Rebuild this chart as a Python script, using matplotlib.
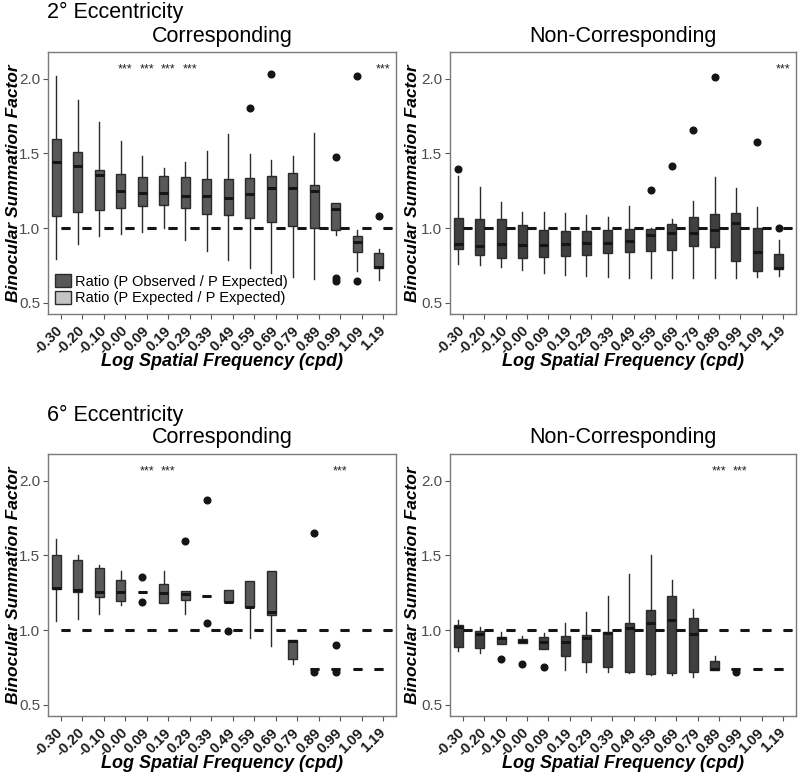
import numpy as np
import matplotlib
matplotlib.use("Agg")
import matplotlib.pyplot as plt
from matplotlib.patches import Patch
from matplotlib.transforms import ScaledTranslation

plt.rcParams['font.family'] = ['Liberation Sans', 'DejaVu Sans']

categories = ["-0.30", "-0.20", "-0.10", "-0.00", "0.09", "0.19", "0.29", "0.39",
              "0.49", "0.59", "0.69", "0.79", "0.89", "0.99", "1.09", "1.19"]

# ---- 2 deg, Corresponding (observed / expected) ----
tl_lo  = [0.790, 0.890, 0.946, 0.958, 0.973, 1.000, 0.920, 0.848, 0.785, 0.734, 0.696, 0.670, 0.656, 0.951, 0.711, 0.651]
tl_q1  = [1.083, 1.105, 1.123, 1.136, 1.146, 1.152, 1.136, 1.096, 1.085, 1.065, 1.038, 1.016, 1.002, 0.987, 0.837, 0.734]
tl_med = [1.445, 1.418, 1.355, 1.248, 1.237, 1.237, 1.217, 1.217, 1.200, 1.230, 1.268, 1.268, 1.248, 1.125, 0.904, 0.740]
tl_q3  = [1.600, 1.508, 1.390, 1.360, 1.342, 1.349, 1.340, 1.331, 1.331, 1.333, 1.351, 1.371, 1.289, 1.166, 0.944, 0.830]
tl_hi  = [2.020, 1.857, 1.711, 1.584, 1.481, 1.405, 1.443, 1.520, 1.633, 1.494, 1.454, 1.485, 1.635, 1.166, 0.987, 0.859]
tl_out = [[], [], [], [], [], [], [], [], [], [1.805], [2.033], [], [], [1.478, 0.665, 0.645], [2.020, 0.647], [1.083]]
tl_stars = ["-0.00", "0.09", "0.19", "0.29", "1.19"]

# ---- 2 deg, Non-Corresponding ----
tr_lo  = [0.756, 0.750, 0.740, 0.720, 0.696, 0.685, 0.676, 0.671, 0.666, 0.666, 0.666, 0.666, 0.666, 0.666, 0.671, 0.676]
tr_q1  = [0.857, 0.821, 0.799, 0.799, 0.803, 0.812, 0.821, 0.832, 0.841, 0.848, 0.850, 0.879, 0.872, 0.779, 0.709, 0.727]
tr_med = [0.890, 0.881, 0.890, 0.888, 0.888, 0.893, 0.897, 0.897, 0.913, 0.953, 0.964, 0.969, 0.987, 1.036, 0.841, 0.734]
tr_q3  = [1.065, 1.060, 1.060, 1.020, 0.984, 0.980, 0.982, 0.987, 0.991, 0.996, 1.029, 1.072, 1.092, 1.098, 0.998, 0.826]
tr_hi  = [1.349, 1.273, 1.177, 1.105, 1.105, 1.100, 1.085, 1.076, 1.148, 1.003, 1.062, 1.181, 1.340, 1.268, 1.139, 0.917]
tr_out = [[1.394], [], [], [], [], [], [], [], [], [1.253], [1.416], [1.660], [2.011], [], [1.575], [1.000]]
tr_stars = ["1.19"]

# ---- 6 deg, Corresponding ----
bl_lo  = [1.060, 1.074, 1.105, 1.166, 1.255, 1.179, 1.110, 1.226, 1.190, 0.948, 0.890, 0.774, 0.736, 0.736, 0.736, 0.736]
bl_q1  = [1.278, 1.253, 1.221, 1.197, 1.255, 1.183, 1.199, 1.226, 1.190, 1.155, 1.100, 0.808, 0.736, 0.736, 0.736, 0.736]
bl_med = [1.285, 1.268, 1.257, 1.255, 1.255, 1.250, 1.240, 1.226, 1.190, 1.157, 1.119, 0.926, 0.736, 0.736, 0.736, 0.736]
bl_q3  = [1.503, 1.472, 1.418, 1.333, 1.255, 1.309, 1.264, 1.226, 1.268, 1.327, 1.394, 0.933, 0.736, 0.736, 0.736, 0.736]
bl_hi  = [1.611, 1.505, 1.436, 1.398, 1.255, 1.396, 1.264, 1.226, 1.268, 1.327, 1.394, 0.933, 0.736, 0.736, 0.736, 0.736]
bl_out = [[], [], [], [], [1.354, 1.186], [], [1.597], [1.875, 1.049], [0.993], [], [], [], [1.653, 0.720], [0.900, 0.720], [], []]
bl_stars = ["0.09", "0.19", "0.99"]

# ---- 6 deg, Non-Corresponding ----
br_lo  = [0.861, 0.843, 0.904, 0.910, 0.872, 0.732, 0.720, 0.716, 0.714, 0.698, 0.698, 0.687, 0.732, 0.736, 0.736, 0.736]
br_q1  = [0.888, 0.881, 0.904, 0.910, 0.872, 0.828, 0.787, 0.754, 0.718, 0.705, 0.714, 0.720, 0.732, 0.736, 0.736, 0.736]
br_med = [1.018, 0.971, 0.944, 0.928, 0.922, 0.922, 0.944, 0.980, 1.011, 1.045, 1.067, 0.971, 0.736, 0.736, 0.736, 0.736]
br_q3  = [1.034, 0.993, 0.951, 0.937, 0.953, 0.957, 0.966, 0.984, 1.045, 1.132, 1.228, 1.083, 0.794, 0.736, 0.736, 0.736]
br_hi  = [1.067, 1.020, 0.984, 0.960, 0.982, 1.045, 1.123, 1.230, 1.376, 1.503, 1.336, 1.139, 0.828, 0.736, 0.736, 0.736]
br_out = [[], [], [0.808], [0.772], [0.749], [], [], [], [], [], [], [], [], [0.720], [], []]
br_stars = ["0.89", "0.99"]

# expected / expected ratio (always 1.0)
expected = [1.0, 1.0, 1.0, 1.0, 1.0, 1.0, 1.0, 1.0, 1.0, 1.0, 1.0, 1.0, 1.0, 1.0, 1.0, 1.0]

legend_labels = ["Ratio (P Observed / P Expected)", "Ratio (P Expected / P Expected)"]

W, H = 800, 778
fig = plt.figure(figsize=(8, 7.78), dpi=100)

def fx(px):
    return px / W

def fy(py):
    return 1 - py / H

EDGE = '#2b2b2b'
LIGHT = '#c4c4c4'

def panel(rect_px, lo, q1, med, q3, hi, out, stars, fill, ylab_x):
    l, t, r, b = rect_px
    ax = fig.add_axes([fx(l), fy(b), fx(r - l), (b - t) / H])
    x = np.arange(1, len(categories) + 1)
    obs = [dict(whislo=lo[i], q1=q1[i], med=med[i], q3=q3[i], whishi=hi[i], fliers=out[i])
           for i in range(len(categories))]
    exp = [dict(whislo=v, q1=v, med=v, q3=v, whishi=v, fliers=[]) for v in expected]
    common = dict(widths=0.42, patch_artist=True, showcaps=False, manage_ticks=False,
                  whiskerprops=dict(color=EDGE, lw=1.0),
                  medianprops=dict(color='#151515', lw=2.2, solid_capstyle='butt'),
                  flierprops=dict(marker='o', markerfacecolor='#151515',
                                  markeredgecolor='#151515', markersize=4.8))
    ax.bxp(obs, positions=x - 0.21, boxprops=dict(facecolor=fill, edgecolor=EDGE, lw=1.0), **common)
    ax.bxp(exp, positions=x + 0.21, boxprops=dict(facecolor=LIGHT, edgecolor=EDGE, lw=1.0), **common)
    for s in stars:
        ax.text(categories.index(s) + 1, 2.062, '***', ha='center', va='center',
                fontsize=9, color='#222222')
    ax.set_xlim(0.4, 16.6)
    ax.set_ylim(0.423, 2.181)
    ax.set_yticks([0.5, 1.0, 1.5, 2.0])
    ax.set_yticklabels(['0.5', '1.0', '1.5', '2.0'], fontsize=11, color='#4d4d4d')
    ax.set_xticks(x)
    ax.set_xticklabels(categories, rotation=45, ha='right', va='center',
                       rotation_mode='anchor', fontsize=10.5, fontweight='bold', color='#1a1a1a')
    shift = ScaledTranslation(7 / 100, 0, fig.dpi_scale_trans)
    for lab in ax.get_xticklabels():
        lab.set_transform(lab.get_transform() + shift)
    ax.tick_params(axis='both', length=3.5, width=0.8, color='#555555', pad=2)
    ax.tick_params(axis='x', pad=7)
    for sp in ax.spines.values():
        sp.set_color('#7a7a7a')
        sp.set_linewidth(1.0)
    ax.set_ylabel('Binocular Summation Factor', fontsize=12.5, fontweight='bold', style='italic')
    ax.yaxis.label.set_va('center')
    ax.yaxis.set_label_coords(ylab_x, 0.5)
    ax.set_xlabel('Log Spatial Frequency (cpd)', fontsize=13, fontweight='bold', style='italic')
    ax.xaxis.label.set_va('center')
    ax.xaxis.set_label_coords(0.5, -0.183)
    return ax

ax_tl = panel((48, 52, 396, 314), tl_lo, tl_q1, tl_med, tl_q3, tl_hi, tl_out, tl_stars, '#595959', -0.100)
ax_tr = panel((450, 52, 796, 314), tr_lo, tr_q1, tr_med, tr_q3, tr_hi, tr_out, tr_stars, '#404040', -0.107)
ax_bl = panel((48, 454, 396, 716), bl_lo, bl_q1, bl_med, bl_q3, bl_hi, bl_out, bl_stars, '#595959', -0.100)
ax_br = panel((450, 454, 796, 716), br_lo, br_q1, br_med, br_q3, br_hi, br_out, br_stars, '#404040', -0.107)

handles = [Patch(facecolor='#595959', edgecolor=EDGE, lw=1.0),
           Patch(facecolor=LIGHT, edgecolor=EDGE, lw=1.0)]
ax_tl.legend(handles, legend_labels, loc='lower left', bbox_to_anchor=(-0.005, 0.0),
             frameon=False, fontsize=10.5, handlelength=1.1, handleheight=1.0,
             handletextpad=0.3, labelspacing=0.15, borderaxespad=0.3, borderpad=0.3)

fig.text(fx(47), fy(18), '2° Eccentricity', fontsize=15.5, ha='left', va='baseline')
fig.text(fx(222), fy(42), 'Corresponding', fontsize=15.5, ha='center', va='baseline')
fig.text(fx(623), fy(42), 'Non-Corresponding', fontsize=15.5, ha='center', va='baseline')
fig.text(fx(47), fy(421), '6° Eccentricity', fontsize=15.5, ha='left', va='baseline')
fig.text(fx(222), fy(443), 'Corresponding', fontsize=15.5, ha='center', va='baseline')
fig.text(fx(623), fy(443), 'Non-Corresponding', fontsize=15.5, ha='center', va='baseline')

fig.savefig('out.png', dpi=100, facecolor='white')
